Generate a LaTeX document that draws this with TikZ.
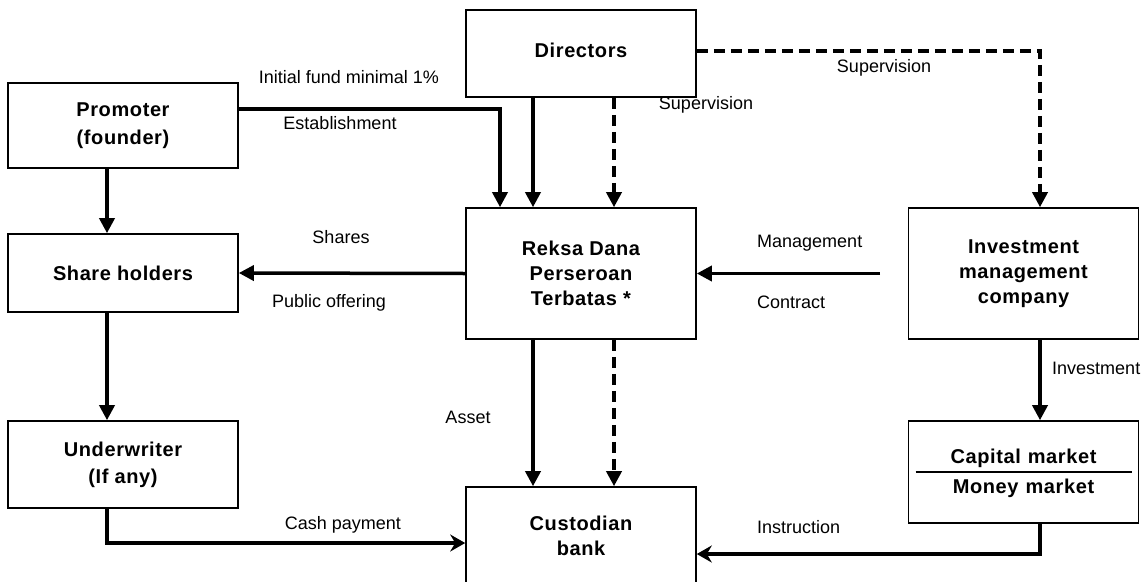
\documentclass[tikz,border=0pt]{standalone}
\usepackage{fontspec}
\setmainfont{Liberation Sans}
\newfontfamily\boxfont{Liberation Sans}[LetterSpace=3]
\usetikzlibrary{arrows.meta,calc}

\begin{document}
\begin{tikzpicture}[x=1pt,y=-1pt,
  box/.style={draw, line width=1.6pt, minimum width=230pt, align=center,
    inner sep=0pt, font=\boxfont\bfseries\fontsize{20}{25}\selectfont},
  lbl/.style={font=\fontsize{18}{20}\selectfont, inner sep=0pt},
  arr/.style={line width=3.5pt, -{Triangle[length=15pt,width=15pt]}},
  darr/.style={arr, dash pattern=on 11pt off 6pt},
  barb/.style={line width=3.5pt, -{Stealth[length=15pt,width=17pt,inset=5pt]}},
]
\useasboundingbox (0,0) rectangle (1145,581);

% boxes
\node[box, minimum height=87pt] (dir) at (581,53.5) {\raisebox{6pt}{Directors}};
\node[box, minimum height=85pt, font=\boxfont\bfseries\fontsize{20}{28}\selectfont] (prom) at (123,125.5) {Promoter\\(founder)};
\node[box, minimum height=78pt] (share) at (123,273) {Share holders};
\node[box, minimum height=87pt, font=\boxfont\bfseries\fontsize{20}{27}\selectfont] (under) at (123,464.5) {Underwriter\\(If any)};
\node[box, minimum height=131pt] (reksa) at (581,273.5) {Reksa Dana\\Perseroan\\Terbatas *};
\node[box, minimum height=131pt] (inv) at (1023.5,273.5) {Investment\\management\\company};
\node[box, minimum height=102pt] (cap) at (1023.5,472) {};
\node[box, minimum height=98pt] (cust) at (581,536) {Custodian\\bank};

% market box contents
\draw[line width=1.6pt] ([xshift=8pt]cap.west) -- ([xshift=-7pt]cap.east);
\node[font=\boxfont\bfseries\fontsize{20}{25}\selectfont, inner sep=0pt] (capt) at ([yshift=14pt]cap.center) {Capital\hspace{0.35em}market};
\node[font=\boxfont\bfseries\fontsize{20}{25}\selectfont, inner sep=0pt] (mont) at ([yshift=-16pt]cap.center) {Money\hspace{0.35em}market};

% free end of the management contract line
\coordinate (mgmt) at (880,273.5);

% connectors
\draw[arr] ([yshift=16.5pt]prom.east) -| ([xshift=-81pt]reksa.north);
\draw[arr] ([xshift=-48pt]dir.south) -- ([xshift=-48pt]reksa.north);
\draw[darr] ([xshift=33pt]dir.south) -- ([xshift=33pt]reksa.north);
\draw[darr] ([yshift=2.5pt]dir.east) -| ([xshift=16.5pt]inv.north);
\draw[arr] (reksa.west) -- (share.east);
\draw[arr] (mgmt) -- (reksa.east);
\draw[arr] ([xshift=-16pt]prom.south) -- ([xshift=-16pt]share.north);
\draw[arr] ([xshift=-16pt]share.south) -- ([xshift=-16pt]under.north);
\draw[barb] ([xshift=-16pt]under.south) |- ([yshift=-7pt]cust.west);
\draw[arr] ([xshift=-48pt]reksa.south) -- ([xshift=-48pt]cust.north);
\draw[darr] ([xshift=33pt]reksa.south) -- ([xshift=33pt]cust.north);
\draw[arr] ([xshift=16.5pt]inv.south) -- ([xshift=16.5pt]cap.north);
\draw[barb] ([xshift=16.5pt]cap.south) |- ([yshift=-18pt]cust.east);

% connector labels
\node[lbl] (l1) at (349,77) {Initial fund minimal 1\%};
\node[lbl] (l2) at (340,123) {Establishment};
\node[lbl] (l3) at (706,105) {Supervision};
\node[lbl] (l4) at (884,68) {Supervision};
\node[lbl] (l5) at (341,237) {Shares};
\node[lbl] (l6) at (329,303) {Public offering};
\node[lbl, anchor=west] (l7) at (757,243) {Management};
\node[lbl, anchor=west] (l8) at (757,302) {Contract};
\node[lbl] (l9) at (468,417) {Asset};
\node[lbl, anchor=west] (l10) at (1052,368) {Investment};
\node[lbl] (l11) at (343,525) {Cash payment};
\node[lbl, anchor=west] (l12) at (757,527) {Instruction};
\end{tikzpicture}
\end{document}
